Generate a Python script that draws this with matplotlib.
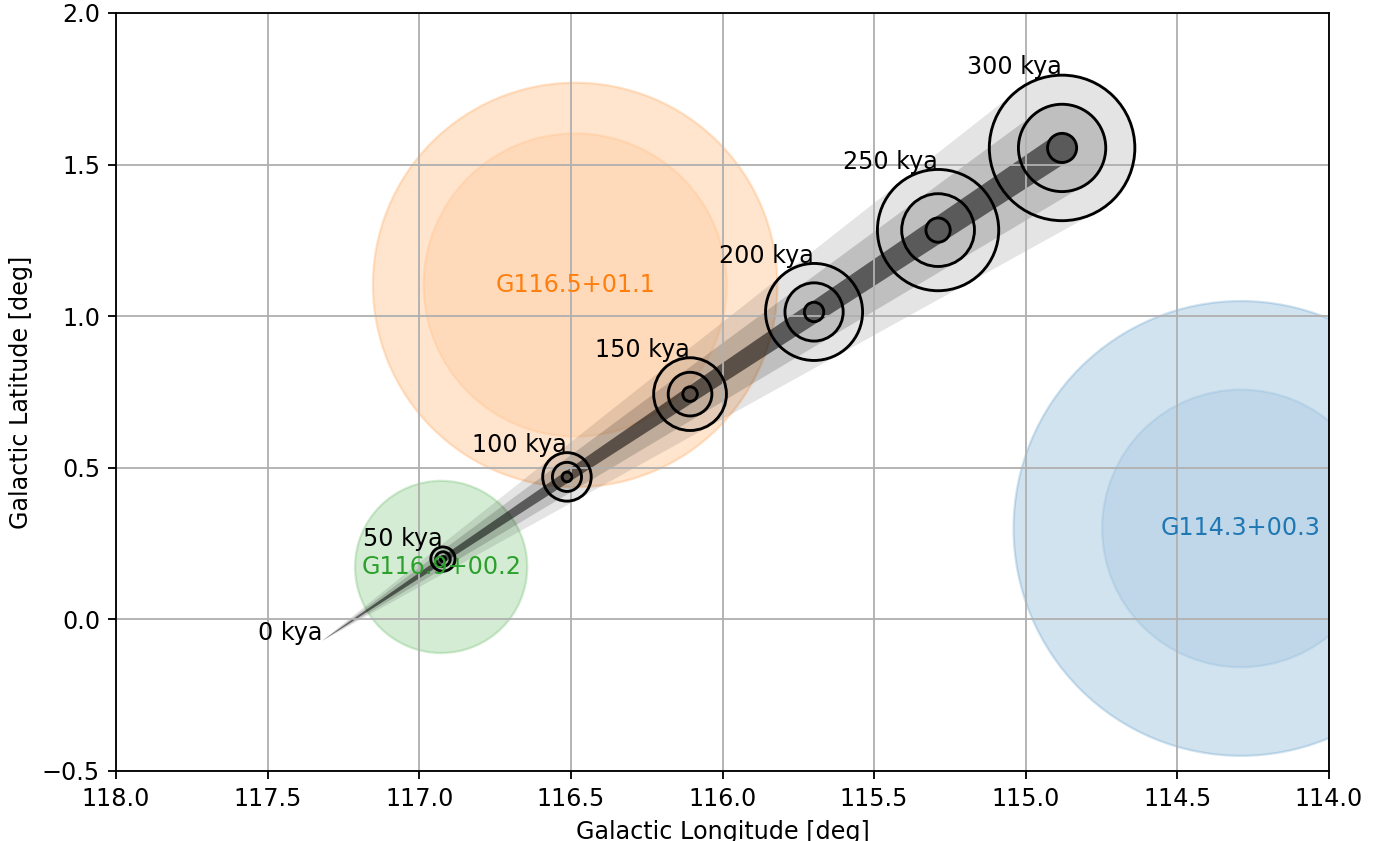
import matplotlib
matplotlib.use('Agg')
import matplotlib.pyplot as plt
from matplotlib.patches import Circle, Polygon
import numpy as np

# trajectory of the source, going back in time
age_kya = [0, 50, 100, 150, 200, 250, 300]
traj_l = [117.321, 116.922, 116.513, 116.107, 115.698, 115.289, 114.880]
traj_b = [-0.071, 0.199, 0.470, 0.743, 1.014, 1.284, 1.555]
traj_sig = [0.0, 0.008, 0.016, 0.024, 0.032, 0.040, 0.048]

# contour levels (in units of sigma), widest first, and cone opacity
levels = [5, 3, 1]
cone_alpha = [0.105, 0.16, 0.53]

# nearby remnants: name, l, b, radii, colour
snr_names = ['G116.5+01.1', 'G114.3+00.3', 'G116.9+00.2']
snr_l = [116.486, 114.29, 116.928]
snr_b = [1.103, 0.30, 0.173]
snr_radii = [[0.667, 0.50], [0.75, 0.458], [0.284]]
snr_alpha = [0.2, 0.1]
snr_colors = ['tab:orange', 'tab:blue', 'tab:green']

plt.rcParams['font.size'] = 10.4


def hull(pts):
    pts = sorted(map(tuple, pts))
    def cross(o, a, b):
        return (a[0]-o[0])*(b[1]-o[1]) - (a[1]-o[1])*(b[0]-o[0])
    lower, upper = [], []
    for p in pts:
        while len(lower) >= 2 and cross(lower[-2], lower[-1], p) <= 0:
            lower.pop()
        lower.append(p)
    for p in reversed(pts):
        while len(upper) >= 2 and cross(upper[-2], upper[-1], p) <= 0:
            upper.pop()
        upper.append(p)
    return np.array(lower[:-1] + upper[:-1])


fig = plt.figure(figsize=(1375/165, 841/165), dpi=165)
ax = fig.add_axes([116/1375, 1-771/841, 1213/1375, 758/841])

for name, l, b, radii, c in zip(snr_names, snr_l, snr_b, snr_radii, snr_colors):
    for r, a in zip(radii, snr_alpha):
        ax.add_patch(Circle((l, b), r, color=c, alpha=a, lw=1))
    ax.text(l, b, name, color=c, ha='center', va='center')

# swept uncertainty cones
phi = np.linspace(0, 2*np.pi, 240)
for n, a in zip(levels, cone_alpha):
    pts = []
    for l, b, s in zip(traj_l, traj_b, traj_sig):
        pts += list(zip(l + n*s*np.cos(phi), b + n*s*np.sin(phi)))
    ax.add_patch(Polygon(hull(pts), closed=True, facecolor='black',
                         edgecolor='none', alpha=a))

for t, l, b, s in zip(age_kya, traj_l, traj_b, traj_sig):
    if s > 0:
        for n in levels:
            ax.add_patch(Circle((l, b), n*s, fill=False, ec='black',
                                lw=1.25, zorder=2.5))
    ax.text(l, b + levels[0]*s + 0.003, f'{t} kya', ha='right',
            va='baseline', zorder=3)

ax.set_xlim(118, 114)
ax.set_ylim(-0.5, 2.0)
ax.set_aspect('equal')
ax.grid(True)
ax.set_xlabel('Galactic Longitude [deg]')
ax.set_ylabel('Galactic Latitude [deg]')

fig.savefig('out.png', dpi=165)
